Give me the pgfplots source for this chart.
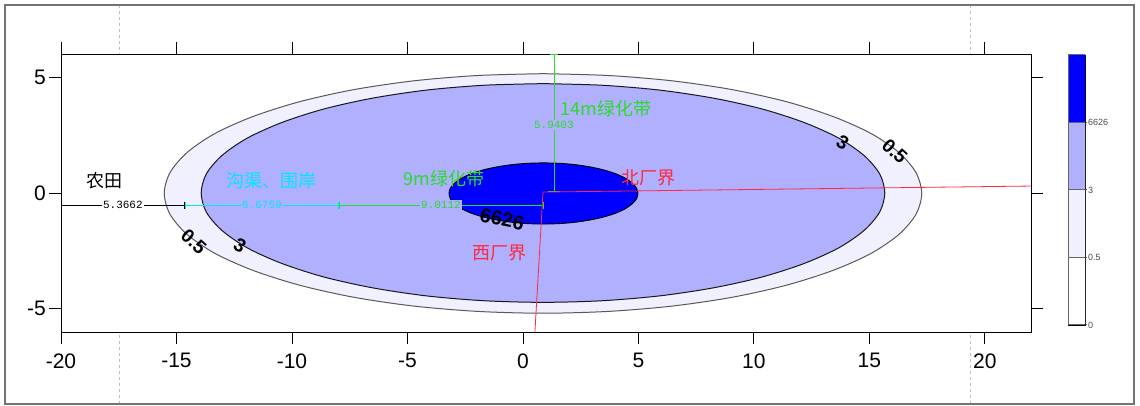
\documentclass[border=0pt]{standalone}
\usepackage{pgfplots}
\pgfplotsset{compat=1.18}
\usepackage{fontspec}
\setmainfont{Liberation Sans}
\newfontfamily\cjk{Noto Sans CJK SC}
\newfontfamily\mono{Liberation Mono}
\usetikzlibrary{arrows.meta}
\definecolor{lav}{RGB}{176,176,255}
\definecolor{pale}{RGB}{240,240,255}
\definecolor{cblue}{RGB}{0,0,255}
\definecolor{cy}{RGB}{0,230,255}
\definecolor{gr}{RGB}{40,220,40}
\definecolor{rd}{RGB}{255,40,60}
\begin{document}
\begin{tikzpicture}
\useasboundingbox (0pt,0pt) rectangle (1140pt,406pt);
\draw[color=black!25, dash pattern=on 3pt off 3pt, line width=0.8pt] (119pt,2pt) -- (119pt,401pt);
\draw[color=black!25, dash pattern=on 3pt off 3pt, line width=0.8pt] (970pt,2pt) -- (970pt,401pt);
\draw[color=black!55, line width=1.3pt] (5pt,2pt) rectangle (1134pt,401pt);
\begin{axis}[at={(61pt,74pt)}, anchor=south west, scale only axis,
  width=970pt, height=278pt,
  xmin=-20, xmax=22, ymin=-6, ymax=6,
  xtick={-20,-15,...,20}, ytick={-5,0,5},
  tick align=outside, major tick length=12pt,
  xtick pos=both, ytick pos=both, xticklabel pos=lower, yticklabel pos=left,
  axis background/.style={fill=white},
  axis line style={black, line width=0.8pt},
  every tick/.style={black, line width=0.8pt},
  tick label style={font=\fontsize{21}{21}\selectfont},
  xticklabel style={yshift=-6pt},
  yticklabel style={inner xsep=3pt},
  /pgf/number format/assume math mode=true,
  clip=true]
\addplot[fill=pale, draw=black!65, line width=1pt, smooth] coordinates {(0.87,5.15) (-1.98,5.07) (-4.74,4.84) (-7.33,4.46) (-9.67,3.94) (-11.69,3.30) (-13.33,2.57) (-14.54,1.75) (-15.28,0.88) (-15.53,-0.02) (-15.28,-0.92) (-14.54,-1.79) (-13.33,-2.61) (-11.69,-3.34) (-9.67,-3.98) (-7.33,-4.50) (-4.74,-4.88) (-1.98,-5.11) (0.87,-5.19) (3.72,-5.11) (6.48,-4.88) (9.07,-4.50) (11.41,-3.98) (13.43,-3.34) (15.07,-2.61) (16.28,-1.79) (17.02,-0.92) (17.27,-0.02) (17.02,0.88) (16.28,1.75) (15.07,2.57) (13.43,3.30) (11.41,3.94) (9.07,4.46) (6.48,4.84) (3.72,5.07) (0.87,5.15)};
\addplot[fill=lav, draw=black!90, line width=1pt, smooth] coordinates {(0.87,4.72) (-1.70,4.65) (-4.19,4.44) (-6.53,4.09) (-8.64,3.62) (-10.47,3.03) (-11.95,2.36) (-13.04,1.61) (-13.71,0.82) (-13.93,0) (-13.71,-0.82) (-13.04,-1.61) (-11.95,-2.36) (-10.47,-3.03) (-8.64,-3.62) (-6.53,-4.09) (-4.19,-4.44) (-1.70,-4.65) (0.87,-4.72) (3.44,-4.65) (5.93,-4.44) (8.27,-4.09) (10.38,-3.62) (12.21,-3.03) (13.69,-2.36) (14.78,-1.61) (15.45,-0.82) (15.67,0) (15.45,0.82) (14.78,1.61) (13.69,2.36) (12.21,3.03) (10.38,3.62) (8.27,4.09) (5.93,4.44) (3.44,4.65) (0.87,4.72)};
\addplot[fill=cblue, draw=black, line width=0.9pt, smooth] coordinates {(0.89,1.30) (0.18,1.28) (-0.51,1.22) (-1.16,1.12) (-1.74,0.99) (-2.24,0.83) (-2.65,0.64) (-2.95,0.43) (-3.14,0.21) (-3.20,-0.02) (-3.14,-0.25) (-2.95,-0.47) (-2.65,-0.68) (-2.24,-0.87) (-1.74,-1.03) (-1.16,-1.16) (-0.51,-1.26) (0.18,-1.32) (0.89,-1.34) (1.60,-1.32) (2.29,-1.26) (2.94,-1.16) (3.52,-1.03) (4.02,-0.87) (4.43,-0.68) (4.73,-0.47) (4.92,-0.25) (4.98,-0.02) (4.92,0.21) (4.73,0.43) (4.43,0.64) (4.02,0.83) (3.52,0.99) (2.94,1.12) (2.29,1.22) (1.60,1.28) (0.89,1.30)};
% dimension lines
\addplot[black, line width=0.7pt, arrows={Bar[width=7pt]-Bar[width=7pt]}] coordinates {(-20,-0.52) (-14.634,-0.52)};
\addplot[cy, line width=0.7pt, arrows={Bar[width=7pt]-Bar[width=7pt]}] coordinates {(-14.634,-0.52) (-7.958,-0.52)};
\addplot[gr, line width=0.7pt, arrows={Bar[width=7pt]-Bar[width=7pt]}] coordinates {(-7.958,-0.52) (0.9,-0.52)};
\addplot[gr, line width=0.7pt, arrows={Bar[width=12pt]-Bar[width=8pt]}] coordinates {(1.34,0.06) (1.34,5.98)};
% boundary lines
\addplot[rd, line width=0.8pt] coordinates {(0.87,0.04) (22,0.30)};
\addplot[rd, line width=0.8pt] coordinates {(0.87,0.04) (0.52,-6)};
% dimension labels
\node[fill=white, inner sep=1pt, text=black, font=\mono\fontsize{11}{11}\selectfont] at (axis cs:-17.32,-0.52) {5.3662};
\node[fill=lav, inner sep=1pt, text=cy, font=\mono\fontsize{11}{11}\selectfont] at (axis cs:-11.30,-0.52) {6.6759};
\node[fill=lav, inner sep=1pt, text=gr, font=\mono\fontsize{11}{11}\selectfont] at (axis cs:-3.55,-0.52) {9.0112};
\node[fill=lav, inner sep=1pt, text=gr, font=\mono\fontsize{11}{11}\selectfont] at (axis cs:1.34,2.94) {5.9403};
% area labels
\node[text=black, font=\cjk\fontsize{18}{18}\selectfont] at (axis cs:-18.1,0.52) {农田};
\node[text=cy, font=\cjk\fontsize{18}{18}\selectfont] at (axis cs:-10.87,0.52) {沟渠、围岸};
\node[text=gr, font=\cjk\fontsize{18}{18}\selectfont] at (axis cs:-3.42,0.63) {9m绿化带};
\node[text=gr, font=\cjk\fontsize{18}{18}\selectfont] at (axis cs:3.59,3.64) {14m绿化带};
\node[text=rd, font=\cjk\fontsize{18}{18}\selectfont] at (axis cs:5.45,0.65) {北厂界};
\node[text=rd, font=\cjk\fontsize{18}{18}\selectfont] at (axis cs:-1.0,-2.6) {西厂界};
% contour labels
\node[rotate=-42, inner sep=0pt, font=\bfseries\fontsize{19}{19}\selectfont] at (axis cs:-14.25,-2.1) {0.5};
\node[rotate=-30, inner sep=0pt, font=\bfseries\fontsize{19}{19}\selectfont] at (axis cs:-12.25,-2.25) {3};
\node[rotate=-30, inner sep=0pt, font=\bfseries\fontsize{19}{19}\selectfont] at (axis cs:13.85,2.2) {3};
\node[rotate=-42, inner sep=0pt, font=\bfseries\fontsize{19}{19}\selectfont] at (axis cs:16.1,1.8) {0.5};
\node[rotate=-12, inner sep=0pt, font=\bfseries\fontsize{20}{20}\selectfont] at (axis cs:-0.9,-1.13) {6626};
\end{axis}
\begin{axis}[at={(1068pt,81pt)}, anchor=south west, scale only axis,
  width=17pt, height=270pt,
  xmin=0, xmax=1, ymin=0, ymax=4,
  xtick=\empty, ytick={0,1,2,3}, yticklabels={0,0.5,3,6626},
  ytick pos=right, yticklabel pos=right,
  tick align=outside, major tick length=2pt,
  every tick/.style={black!60, line width=1pt},
  yticklabel style={font=\fontsize{9}{9}\selectfont, text=black!70, inner xsep=1pt},
  axis line style={black, line width=0.8pt}]
\addplot[fill=white, draw=black!60, line width=1pt] coordinates {(0,0) (1,0) (1,1) (0,1) (0,0)};
\addplot[fill=pale, draw=black!60, line width=1pt] coordinates {(0,1) (1,1) (1,2) (0,2) (0,1)};
\addplot[fill=lav, draw=black!60, line width=1pt] coordinates {(0,2) (1,2) (1,3) (0,3) (0,2)};
\addplot[fill=cblue, draw=black!60, line width=1pt] coordinates {(0,3) (1,3) (1,4) (0,4) (0,3)};
\end{axis}
\end{tikzpicture}
\end{document}
